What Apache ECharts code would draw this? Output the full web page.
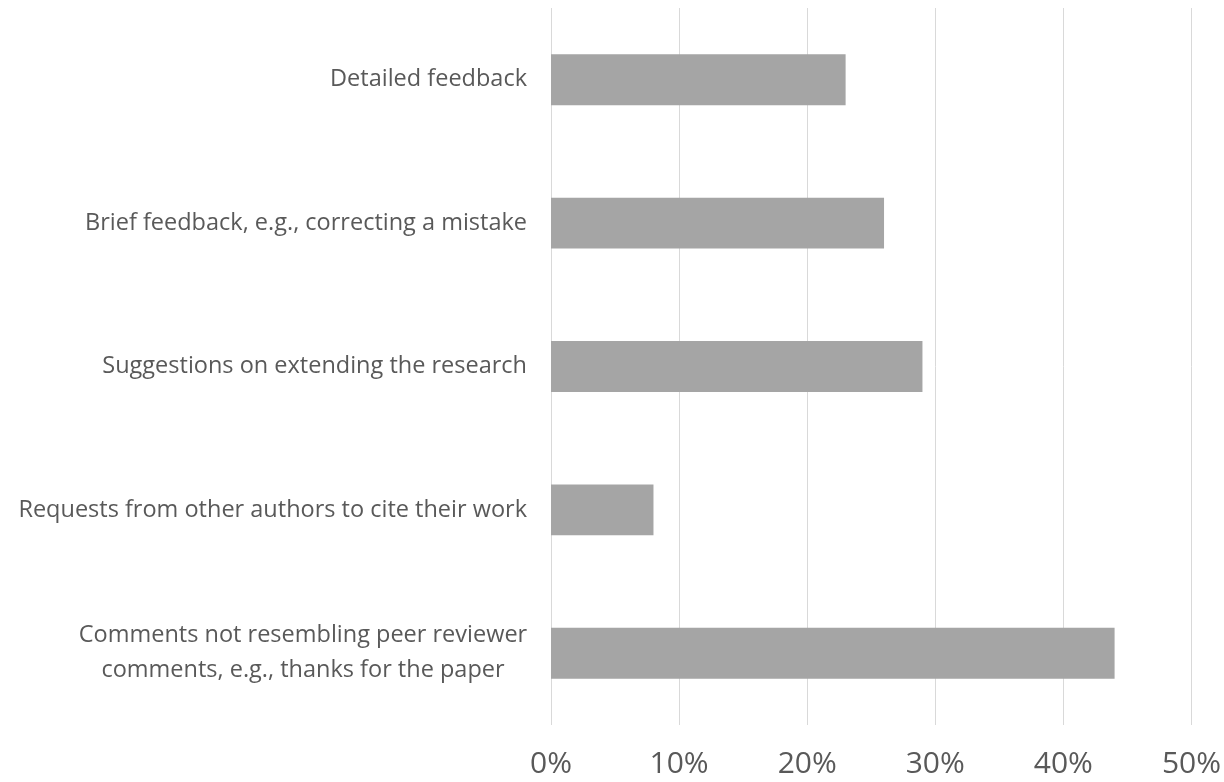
<!DOCTYPE html>
<html>
<head>
<meta charset="utf-8">
<script src="https://cdn.jsdelivr.net/npm/echarts@6/dist/echarts.min.js"></script>
<style>html,body{margin:0;padding:0;background:#fff;}#c{width:1224px;height:782px;}</style>
</head>
<body>
<div id="c"></div>
<script>
const categories = [
  "Detailed feedback",
  "Brief feedback, e.g., correcting a mistake",
  "Suggestions on extending the research",
  "Requests from other authors to cite their work",
  "Comments not resembling peer reviewer\ncomments, e.g., thanks for the paper"
];
const values = [23, 26, 29, 8, 44];
const xTicks = [0, 10, 20, 30, 40, 50];

const chart = echarts.init(document.getElementById('c'));
chart.setOption({
  animation: false,
  backgroundColor: '#ffffff',
  grid: { left: 551, right: 32, top: 8, bottom: 57, containLabel: false },
  xAxis: {
    type: 'value', min: xTicks[0], max: xTicks[xTicks.length - 1], interval: 10,
    axisLine: { show: false }, axisTick: { show: false },
    splitLine: { lineStyle: { color: '#d9d9d9', width: 1 } },
    axisLabel: { formatter: v => v + '%', color: '#595959', fontSize: 30, fontFamily: 'Open Sans', margin: 24 }
  },
  yAxis: {
    type: 'category', data: categories, inverse: true,
    axisLine: { show: false }, axisTick: { show: false },
    axisLabel: {
      color: '#595959', fontSize: 23.5, fontFamily: 'Open Sans', margin: 24, lineHeight: 35, align: 'right',
      formatter: v => v.indexOf('\n') >= 0 ? v.split('\n').map(s => '{c|' + s + '}').join('\n') : v,
      rich: { c: { width: 448, align: 'center', color: '#595959', fontSize: 23.5, fontFamily: 'Open Sans', lineHeight: 35 } }
    }
  },
  series: [{
    type: 'bar', data: values, barWidth: '35.5%',
    itemStyle: { color: '#a5a5a5' }
  }]
});
</script>
</body>
</html>
